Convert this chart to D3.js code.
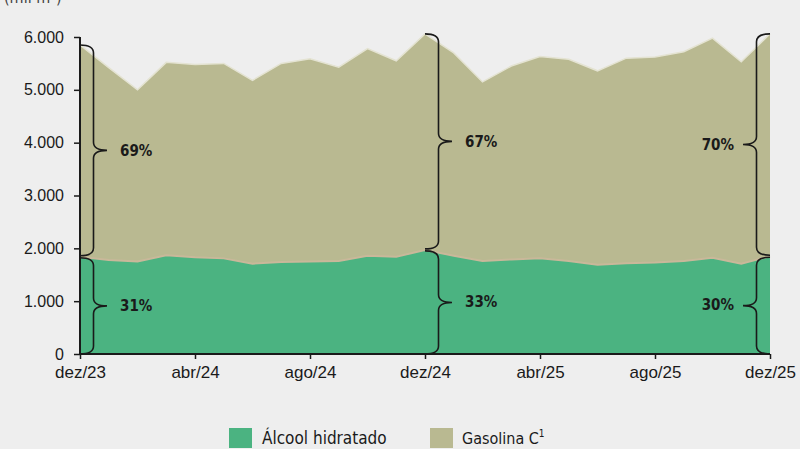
<!DOCTYPE html>
<html>
<head>
<meta charset="UTF-8">
<script src="https://cdn.jsdelivr.net/npm/d3@7"></script>
<style>
  html, body { margin: 0; padding: 0; background: #eeeeee; }
  svg { display: block; font-family: "DejaVu Sans Condensed", "Liberation Sans Narrow", sans-serif; }
</style>
</head>
<body>
<svg id="chart" width="800" height="449"></svg>
<script>
// months dez/23 .. dez/25
var months = ["dez/23","jan/24","fev/24","mar/24","abr/24","mai/24","jun/24","jul/24","ago/24","set/24","out/24","nov/24",
              "dez/24","jan/25","fev/25","mar/25","abr/25","mai/25","jun/25","jul/25","ago/25","set/25","out/25","nov/25","dez/25"];
// mil m³
var alcool   = [1840,1780,1750,1870,1830,1810,1710,1740,1750,1760,1860,1840,1970,1860,1760,1790,1810,1760,1690,1720,1730,1760,1820,1710,1850];
var gasolina = [4010,3640,3250,3650,3650,3690,3470,3760,3840,3670,3920,3710,4090,3840,3390,3660,3820,3820,3670,3880,3890,3960,4160,3820,4210];
var yTicks = [0,1000,2000,3000,4000,5000,6000];
var xTickLabels = ["dez/23","abr/24","ago/24","dez/24","abr/25","ago/25","dez/25"];
// share annotations at dez/23, dez/24, dez/25
var braceMonths = ["dez/23","dez/24","dez/25"];
var gasShare = ["69%","67%","70%"];
var alcShare = ["31%","33%","30%"];

var colors = { alcool: "#4bb381", gasolina: "#b9b991" };

var svg = d3.select("#chart");
var x = d3.scalePoint().domain(months).range([80, 770]);
var y = d3.scaleLinear().domain([0, 6000]).range([354, 37]);

var table = months.map(function(m, i) { return { month: m, alcool: alcool[i], gasolina: gasolina[i] }; });
var series = d3.stack().keys(["alcool","gasolina"])(table);

var area = d3.area()
  .x(function(d) { return x(d.data.month); })
  .y0(function(d) { return y(d[0]); })
  .y1(function(d) { return y(d[1]); });

svg.append("g").selectAll("path").data(series.slice().reverse()).join("path")
  .attr("d", area)
  .attr("fill", function(s) { return colors[s.key]; });

// light edges along the tops of the areas
var topLine = d3.line().x(function(d) { return x(d.data.month); }).y(function(d) { return y(d[1]); });
svg.append("path").datum(series[0]).attr("d", topLine)
  .attr("fill", "none").attr("stroke", "#c9b89a").attr("stroke-width", 2);
svg.append("path").datum(series[1]).attr("d", topLine)
  .attr("fill", "none").attr("stroke", "#e4e3d2").attr("stroke-width", 1.5);

// axes
var yAxis = svg.append("g").attr("transform", "translate(80,0)")
  .call(d3.axisLeft(y).tickValues(yTicks).tickSize(6).tickPadding(10)
    .tickFormat(function(d) { return d3.format(",")(d).replace(/,/g, "."); }));
var xAxis = svg.append("g").attr("transform", "translate(0,354)")
  .call(d3.axisBottom(x).tickValues(xTickLabels).tickSize(5).tickPadding(4));
[yAxis, xAxis].forEach(function(g) {
  g.select(".domain").attr("stroke", "#1a1a1a").attr("stroke-width", 2);
  g.selectAll(".tick line").attr("stroke", "#1a1a1a").attr("stroke-width", 1.5);
  g.selectAll(".tick text").attr("fill", "#1a1a1a").style("font-size", "16px").style("font-family", "inherit");
});
xAxis.select(".domain").attr("d", "M80,0H770");
yAxis.select(".domain").attr("d", "M0,354V37");
xAxis.selectAll(".tick text").attr("dy", "0.9em").style("font-size", "17px");

// curly braces
function brace(x0, y0, y1, dir) {
  var d = 27 * dir, h = d / 2, r = 8, ym = (y0 + y1) / 2;
  return "M" + x0 + "," + y0 +
    "Q" + (x0 + h) + "," + y0 + " " + (x0 + h) + "," + (y0 + r) +
    "L" + (x0 + h) + "," + (ym - r) +
    "Q" + (x0 + h) + "," + ym + " " + (x0 + d) + "," + ym +
    "Q" + (x0 + h) + "," + ym + " " + (x0 + h) + "," + (ym + r) +
    "L" + (x0 + h) + "," + (y1 - r) +
    "Q" + (x0 + h) + "," + y1 + " " + x0 + "," + y1;
}
var br = svg.append("g");
braceMonths.forEach(function(m, i) {
  var idx = months.indexOf(m);
  var bx = x(m), dir = i === braceMonths.length - 1 ? -1 : 1;
  var yTot = y(alcool[idx] + gasolina[idx]), yAlc = y(alcool[idx]), y0 = y(0);
  br.append("path").attr("d", brace(bx, yTot, yAlc - 1, dir))
    .attr("fill", "none").attr("stroke", "#1a1a1a").attr("stroke-width", 1.6);
  br.append("path").attr("d", brace(bx, yAlc + 1, y0, dir))
    .attr("fill", "none").attr("stroke", "#1a1a1a").attr("stroke-width", 1.6);
  var lx = bx + dir * (dir > 0 ? 40 : 36);
  var anchor = dir > 0 ? "start" : "end";
  br.append("text").attr("x", lx).attr("y", (yTot + yAlc) / 2).attr("dy", "0.35em")
    .attr("text-anchor", anchor).attr("font-size", 15).attr("font-weight", "bold").attr("fill", "#1a1a1a")
    .text(gasShare[i]);
  br.append("text").attr("x", lx).attr("y", (yAlc + y0) / 2).attr("dy", "0.35em")
    .attr("text-anchor", anchor).attr("font-size", 15).attr("font-weight", "bold").attr("fill", "#1a1a1a")
    .text(alcShare[i]);
});

// unit label, clipped at the top as in the source
svg.append("text").attr("x", 4).attr("y", 3).attr("font-size", 16).attr("fill", "#444").text("(mil m³)");

// legend
var legend = svg.append("g").attr("transform", "translate(229,428)");
legend.append("rect").attr("width", 23).attr("height", 20).attr("fill", colors.alcool);
legend.append("text").attr("x", 33).attr("y", 16).attr("font-size", 17).attr("fill", "#1a1a1a").text("Álcool hidratado");
legend.append("rect").attr("x", 201).attr("width", 23).attr("height", 20).attr("fill", colors.gasolina);
var gt = legend.append("text").attr("x", 233).attr("y", 16).attr("font-size", 16).attr("fill", "#1a1a1a").text("Gasolina C");
gt.append("tspan").attr("font-size", 10).attr("dy", -7).text("1");
</script>
</body>
</html>
